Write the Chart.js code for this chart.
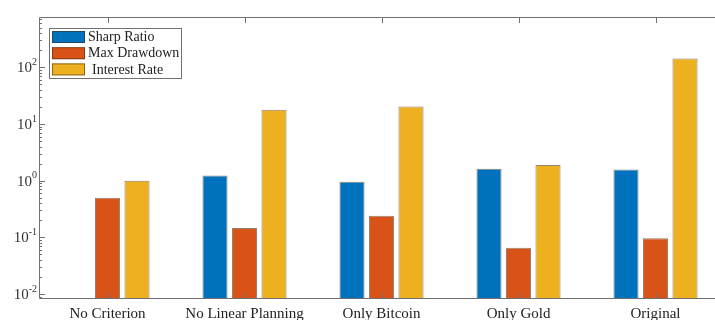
<!DOCTYPE html>
<html>
<head>
<meta charset="utf-8">
<script src="https://cdn.jsdelivr.net/npm/chart.js@4/dist/chart.umd.min.js"></script>
<style>
  html, body { margin: 0; padding: 0; background: #ffffff; overflow: hidden; }
  #wrap { width: 715px; height: 320px; overflow: hidden; }
</style>
</head>
<body>
<div id="wrap"><canvas id="c" width="730" height="320"></canvas></div>
<script>
// Strategy variants compared on three metrics (log scale)
const categories = ['No Criterion', 'No Linear Planning', 'Only Bitcoin', 'Only Gold', 'Original'];
const seriesNames = ['Sharp Ratio', 'Max Drawdown', 'Interest Rate'];
const sharpRatio   = [null, 1.23, 0.96, 1.62, 1.57];
const maxDrawdown  = [0.50, 0.147, 0.24, 0.066, 0.097];
const interestRate = [1.0, 17.8, 20.3, 1.9, 143];
const yDecades = [-2, -1, 0, 1, 2];
const yMin = 0.0082;
const yMax = 770;

const colors = ['#0072BD', '#D95319', '#EDB120'];
const serif = '"Liberation Serif", "Times New Roman", serif';
const axisColor = '#707070';

// Frame, inward ticks, tick labels and in-plot legend, MATLAB style
const decorations = {
  id: 'decorations',
  afterDraw(chart) {
    const { ctx, chartArea: a, scales } = chart;
    const xs = scales.x, ys = scales.y;
    const L = a.left, R = a.right, T = a.top, B = a.bottom;
    ctx.save();
    ctx.strokeStyle = axisColor;
    ctx.lineWidth = 1;
    ctx.beginPath();
    ctx.moveTo(L + 0.5, T + 0.5); ctx.lineTo(R - 0.5, T + 0.5);
    ctx.lineTo(R - 0.5, B - 0.5); ctx.lineTo(L + 0.5, B - 0.5);
    ctx.closePath();
    ctx.stroke();

    // y ticks (major decades + minor 2..9)
    ctx.beginPath();
    for (let e = -3; e <= 3; e++) {
      for (let m = 1; m <= 9; m++) {
        const v = m * Math.pow(10, e);
        if (v < yMin || v > yMax) continue;
        const y = Math.round(ys.getPixelForValue(v)) + 0.5;
        const len = m === 1 ? 6 : 3;
        ctx.moveTo(L, y); ctx.lineTo(L + len, y);
        ctx.moveTo(R, y); ctx.lineTo(R - len, y);
      }
    }
    // x ticks at category centres
    categories.forEach((c, i) => {
      const x = Math.round(xs.getPixelForValue(i)) + 0.5;
      ctx.moveTo(x, B); ctx.lineTo(x, B - 6);
      ctx.moveTo(x, T); ctx.lineTo(x, T + 6);
    });
    ctx.stroke();

    // y tick labels 10^n
    ctx.fillStyle = '#333';
    ctx.textBaseline = 'middle';
    yDecades.forEach(e => {
      const y = ys.getPixelForValue(Math.pow(10, e));
      const exp = String(e);
      ctx.font = '15px ' + serif;
      const wb = ctx.measureText('10').width;
      ctx.font = '10px ' + serif;
      const we = ctx.measureText(exp).width;
      const xRight = L - 2;
      ctx.font = '15px ' + serif;
      ctx.textAlign = 'left';
      ctx.fillText('10', xRight - we - wb, y + 1);
      ctx.font = '10px ' + serif;
      ctx.fillText(exp, xRight - we, y - 5);
    });

    // x category labels
    ctx.font = '15px ' + serif;
    ctx.textAlign = 'center';
    ctx.fillStyle = '#222';
    categories.forEach((c, i) => {
      ctx.fillText(c, xs.getPixelForValue(i), B + 15);
    });

    // legend box
    const lx = 49.5, ly = 28.5, lw = 132, lh = 50;
    ctx.fillStyle = '#fff';
    ctx.fillRect(lx, ly, lw, lh);
    ctx.strokeStyle = axisColor;
    ctx.strokeRect(lx, ly, lw, lh);
    ctx.font = '14px ' + serif;
    ctx.textAlign = 'left';
    chart.data.datasets.forEach((ds, i) => {
      const sy = 31 + i * 16.2;
      ctx.fillStyle = ds.backgroundColor;
      ctx.fillRect(52, sy, 33, 12);
      ctx.strokeStyle = 'rgba(60,40,20,0.55)';
      ctx.strokeRect(52.5, sy + 0.5, 32, 11);
      ctx.fillStyle = '#222';
      ctx.fillText(ds.label, i === 2 ? 92 : 88, sy + 6.5);
    });
    ctx.restore();
  }
};

new Chart(document.getElementById('c'), {
  type: 'bar',
  data: {
    labels: categories,
    datasets: [sharpRatio, maxDrawdown, interestRate].map((d, i) => ({
      label: seriesNames[i],
      data: d,
      backgroundColor: colors[i],
      borderColor: 'rgba(70,45,20,0.6)',
      borderWidth: 1,
      borderSkipped: 'bottom',
      categoryPercentage: 0.646,
      barPercentage: 0.85
    }))
  },
  options: {
    responsive: false,
    animation: false,
    devicePixelRatio: 1,
    layout: { padding: { left: 39, right: 6, top: 17, bottom: 21 } },
    plugins: { legend: { display: false }, tooltip: { enabled: false } },
    scales: {
      x: { display: false, offset: true },
      y: { display: false, type: 'logarithmic', min: yMin, max: yMax }
    }
  },
  plugins: [decorations]
});
</script>
</body>
</html>
